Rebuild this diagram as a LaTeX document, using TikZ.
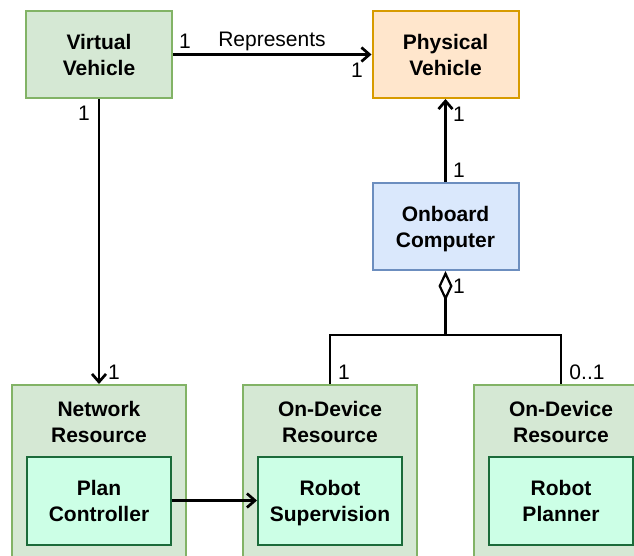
\documentclass[tikz,border=0pt]{standalone}
\usepackage{fontspec}
\setmainfont{Liberation Sans}
\usetikzlibrary{arrows.meta,positioning}
\definecolor{greenfill}{HTML}{D5E8D4}
\definecolor{greenline}{HTML}{82B366}
\definecolor{orangefill}{HTML}{FFE6CC}
\definecolor{orangeline}{HTML}{D79B00}
\definecolor{bluefill}{HTML}{DAE8FC}
\definecolor{blueline}{HTML}{6C8EBF}
\definecolor{mintfill}{HTML}{CCFFE6}
\definecolor{darkgreen}{HTML}{1B6B3A}
\tikzset{
  x=1pt, y=-1pt,
  txt/.style={font=\fontsize{21}{26}\selectfont\bfseries, align=center,
    execute at end node={\rule[-5pt]{0pt}{5pt}}, inner sep=0pt},
  lbl/.style={font=\fontsize{21}{24}\selectfont, inner sep=0pt},
  entity/.style={draw, line width=2pt, minimum width=146pt, minimum height=87pt},
  resource/.style={draw=greenline, fill=greenfill, line width=2pt, minimum width=174pt, minimum height=190pt},
  component/.style={draw=darkgreen, fill=mintfill, line width=2pt, minimum width=144pt, minimum height=88pt},
  conn/.style={line width=2.7pt},
  opentip/.style={-{Straight Barb[length=8pt,width=14pt,line width=2.7pt]}},
}
% caption centred in a named box, set slightly below its centre
\newcommand\boxcaption[2]{\node[txt] (#1t) at ([yshift=-3pt]#1.center) {#2};}
\begin{document}
\begin{tikzpicture}
\useasboundingbox (0,0) rectangle (634,556);
\clip (0,0) rectangle (634,556);

% top row
\node[entity, draw=greenline, fill=greenfill] (vv) at (99,54.5) {};
\boxcaption{vv}{Virtual\\Vehicle}
\node[entity, draw=orangeline, fill=orangefill] (pv) at (445.5,54.5) {};
\boxcaption{pv}{Physical\\Vehicle}
\node[entity, draw=blueline, fill=bluefill] (obc) at (445.5,226.5) {};
\boxcaption{obc}{Onboard\\Computer}

% resources and their components
\node[resource] (netres) at (99,480) {};
\node[txt] (netrest) at (99,424) {Network\\Resource};
\node[component] (planctl) at (99,500.5) {};
\boxcaption{planctl}{Plan\\Controller}

\node[resource] (odres1) at (330,480) {};
\node[txt] (odres1t) at (330,424) {On-Device\\Resource};
\node[component] (robsup) at (330,500.5) {};
\boxcaption{robsup}{Robot\\Supervision}

\node[resource] (odres2) at (561,480) {};
\node[txt] (odres2t) at (561,424) {On-Device\\Resource};
\node[component] (robplan) at (561,500.5) {};
\boxcaption{robplan}{Robot\\Planner}

% associations
\draw[conn, opentip] (vv.east) -- (pv.west);
\draw[conn, opentip] (vv.south) -- (netres.north);
\draw[conn, opentip] (obc.north) -- (pv.south);
\draw[conn, opentip] (planctl.east) -- (robsup.west);

% aggregation
\coordinate (join) at (445.5,335);
\draw[conn, {Diamond[open,length=30pt,width=14pt,line width=2.2pt]}-] (obc.south) -- (join);
\draw[conn] (odres1.north) |- (join) -| (odres2.north);

% multiplicities and role
\node[lbl] (m1) at (185,41) {1};
\node[lbl] (rep) at (272,41) {Represents};
\node[lbl] (m2) at (357,70) {1};
\node[lbl] (m3) at (84,113) {1};
\node[lbl] (m4) at (114,372) {1};
\node[lbl] (m5) at (459,114) {1};
\node[lbl] (m6) at (459,170) {1};
\node[lbl] (m7) at (459,286) {1};
\node[lbl] (m8) at (344,372) {1};
\node[lbl] (m9) at (587,372) {0..1};
\end{tikzpicture}
\end{document}
